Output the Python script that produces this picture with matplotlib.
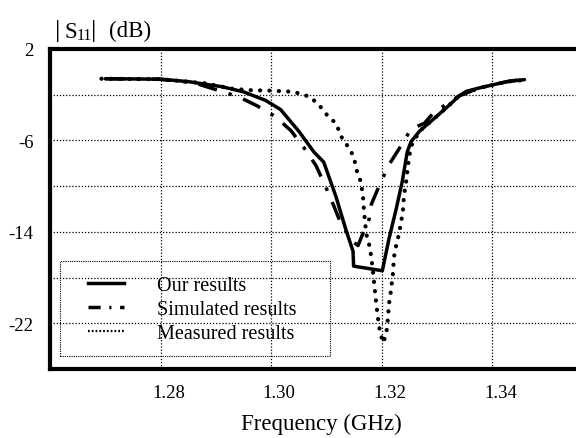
import matplotlib
matplotlib.use("Agg")
import matplotlib.pyplot as plt
import matplotlib.transforms as mtransforms
from matplotlib.lines import Line2D
from matplotlib.patches import Rectangle

plt.rcParams['font.family'] = ['Liberation Serif', 'DejaVu Serif']
plt.rcParams['axes.unicode_minus'] = False

# ---- data (GHz, dB) ----
our_f = [1.2700, 1.2800, 1.2851, 1.2911, 1.2950, 1.2990, 1.3017, 1.3050, 1.3077, 1.3095,
         1.3117, 1.3135, 1.3148, 1.3149, 1.3201, 1.3213, 1.3226, 1.3237, 1.3246, 1.3253,
         1.3268, 1.3299, 1.3320, 1.3340, 1.3353, 1.3377, 1.3426, 1.3458]
our_db = [-0.60, -0.64, -0.86, -1.30, -1.75, -2.50, -3.30, -5.20, -7.00, -7.90,
          -10.9, -13.8, -15.7, -17.0, -17.4, -14.6, -12.0, -9.6, -7.0, -6.1,
          -5.2, -3.9, -3.0, -2.1, -1.7, -1.4, -0.86, -0.68]

sim_f = [1.2700, 1.2800, 1.2860, 1.2941, 1.2974, 1.3008, 1.3036, 1.3060, 1.3081, 1.3098,
         1.3113, 1.3127, 1.3149, 1.3157, 1.3167, 1.3177, 1.3181, 1.3195, 1.3212, 1.3233,
         1.3253, 1.3277, 1.3295, 1.3313, 1.3340, 1.3377, 1.3426, 1.3460]
sim_db = [-0.60, -0.65, -0.95, -2.18, -2.96, -3.93, -5.16, -6.70, -8.20, -10.0,
          -11.7, -13.4, -14.9, -15.2, -14.0, -12.9, -11.6, -10.0, -8.2, -6.6,
          -5.0, -4.5, -3.5, -2.96, -2.1, -1.4, -0.86, -0.60]

meas_f = [1.2693, 1.2800, 1.2880, 1.2929, 1.2960, 1.3001, 1.3040, 1.3071, 1.3089, 1.3102,
          1.3117, 1.3129, 1.3140, 1.3149, 1.3156, 1.3162, 1.3166, 1.3168, 1.3172, 1.3177,
          1.3181, 1.3186, 1.3190, 1.3195, 1.3202, 1.3208, 1.3211, 1.3213, 1.3217, 1.3220,
          1.3222, 1.3226, 1.3231, 1.3235, 1.3238, 1.3240, 1.3244, 1.3249, 1.3253, 1.3268,
          1.3299, 1.3320, 1.3340, 1.3377, 1.3426, 1.3461]
meas_db = [-0.60, -0.64, -1.00, -1.47, -1.60, -1.65, -1.74, -2.20, -3.05, -3.84,
           -4.50, -5.90, -6.60, -7.40, -8.90, -9.60, -10.9, -12.3, -14.2, -15.1,
           -16.2, -18.4, -20.3, -22.3, -23.7, -23.0, -21.6, -20.3, -19.0, -17.7,
           -16.2, -15.2, -14.2, -13.1, -12.3, -10.9, -9.6, -7.6, -6.5, -5.2,
           -3.9, -3.0, -2.1, -1.4, -0.86, -0.70]

labels = ["Our results", "Simulated results", "Measured results"]
xticks = [1.28, 1.30, 1.32, 1.34]
xticklabels = ["1.28", "1.30", "1.32", "1.34"]
yticks = [2, -6, -14, -22]
yminor = [-2, -10, -18]

W, H = 576, 439
fig = plt.figure(figsize=(W / 100, H / 100), dpi=100)
ax = fig.add_axes([50 / W, 1 - 370 / H, 553 / W, 320 / H])

ax.plot(our_f, our_db, color='black', lw=2.5, solid_capstyle='round', zorder=4)
ax.plot(sim_f, sim_db, color='black', lw=2.5, ls=(0, (5.5, 3.5, 1.0, 3.5)), zorder=3)
ax.plot(meas_f, meas_db, color='black', lw=3.0, ls=(0, (0.05, 2.2)),
        dash_capstyle='round', zorder=3)

ax.set_xlim(1.26, 1.36)
ax.set_ylim(-26, 2)
ax.set_xticks(xticks)
ax.set_xticklabels(xticklabels)
ax.set_yticks(yticks)
ax.set_yticks(yminor, minor=True)
ax.tick_params(which='both', length=0)
ax.tick_params(axis='y', pad=12, labelsize=13.5)
ax.tick_params(axis='x', pad=11, labelsize=13.5)
offset = mtransforms.ScaledTranslation(8 / 100, 0, fig.dpi_scale_trans)
for lab in ax.get_xticklabels():
    lab.set_transform(lab.get_transform() + offset)

ax.grid(True, which='both', color='black', lw=0.9, ls=(0, (1, 1.5)))
ax.set_axisbelow(True)
for s in ['left', 'bottom', 'top']:
    ax.spines[s].set_linewidth(3)
ax.spines['right'].set_visible(False)

fig.text(321 / W, 1 - 424 / H, "Frequency (GHz)", ha='center', va='center', fontsize=16.5)

# y-axis title |S11| (dB), composed of pieces
def ftext(px, py, s, size, **kw):
    fig.text(px / W, 1 - py / H, s, ha='left', va='baseline', fontsize=size, **kw)

ftext(55, 37, "|", 19)
ftext(64, 38, "S", 16.5)
ftext(77, 40, "11", 11.5)
ftext(91, 37, "|", 19)
ftext(109, 37, "(dB)", 16.5)

# legend
handles = [
    Line2D([], [], color='black', lw=2.5),
    Line2D([], [], color='black', lw=2.5, ls=(0, (3.5, 2.5, 0.6, 2.5))),
    Line2D([], [], color='black', lw=1.6, ls=(0, (0.8, 0.9))),
]
fig.legend(handles, labels, loc='upper left', bbox_to_anchor=(88 / W, 1 - 277 / H),
           bbox_transform=fig.transFigure, frameon=False, borderpad=0, borderaxespad=0,
           handlelength=1.8, handletextpad=1.65, labelspacing=0.25, fontsize=14.5)
fig.add_artist(Rectangle((60 / W, 1 - 357 / H), 270 / W, 95 / H, transform=fig.transFigure,
                         fill=False, ls=(0, (1, 1)), lw=0.8, ec='black'))

fig.savefig("out.png", dpi=100)
